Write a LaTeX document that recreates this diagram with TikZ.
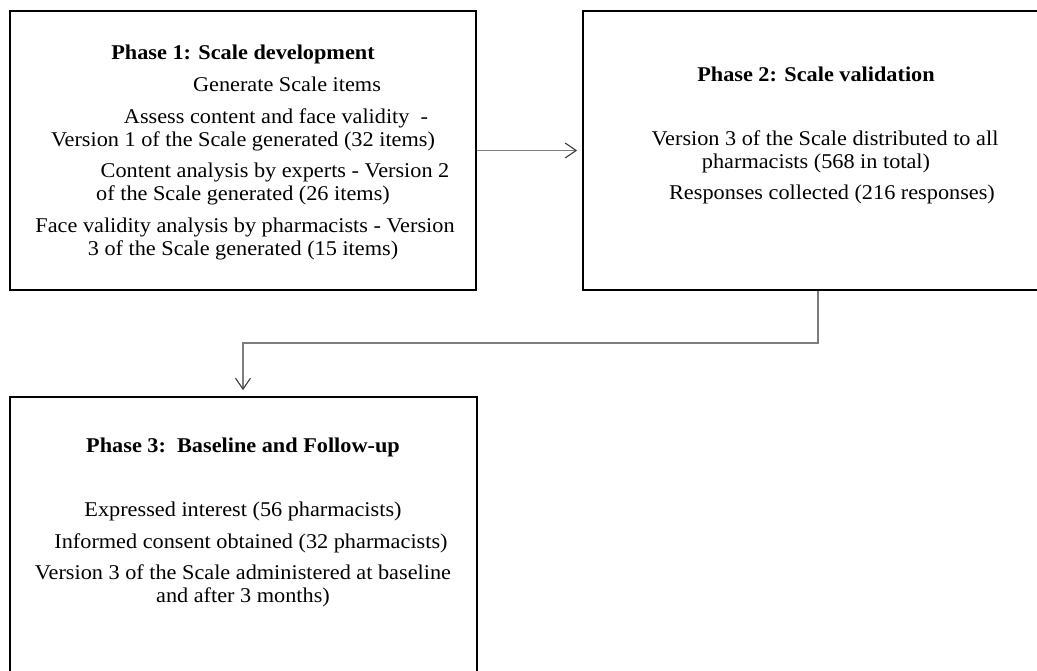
\documentclass[tikz,border=0pt]{standalone}
\usepackage{fontspec}
\setmainfont[FakeStretch=1.06]{Liberation Serif}
\usetikzlibrary{arrows.meta}
\definecolor{conn}{RGB}{125,125,125}
\definecolor{tipc}{RGB}{60,60,60}
\tikzset{
  phasebox/.style={draw=black, line width=1.8pt, rectangle, inner sep=0pt},
  txt/.style={anchor=base, inner sep=0pt, font=\fontsize{21}{23}\selectfont},
  head/.style={anchor=base, inner sep=0pt, font=\fontsize{21}{23}\selectfont\bfseries},
  conline/.style={draw=conn, line width=1.2pt, -{Straight Barb[length=11pt,width=15pt,line width=1.1pt,color=tipc]}},
}
\begin{document}
\begin{tikzpicture}[x=1pt,y=-1pt]
\useasboundingbox (0,0) rectangle (1037,670);
\clip (0,0) rectangle (1037,670);
% boxes
\node[phasebox, minimum width=466pt, minimum height=279pt] (b1) at (243,150.5) {};
\node[phasebox, minimum width=462pt, minimum height=279pt] (b2) at (814,150.5) {};
\node[phasebox, minimum width=467pt, minimum height=283pt] (b3) at (243.5,538.5) {};
% phase 1 text
\node[head] (h1) at (243,59) {Phase 1: Scale development};
\node[txt] (l11) at (287,91) {Generate Scale items};
\node[txt] (l12) at (276,123) {Assess content and face validity\ \ -};
\node[txt] (l13) at (243,146) {Version 1 of the Scale generated (32 items)};
\node[txt] (l14) at (275,177) {Content analysis by experts - Version 2};
\node[txt] (l15) at (243,200) {of the Scale generated (26 items)};
\node[txt] (l16) at (245,232) {Face validity analysis by pharmacists - Version};
\node[txt] (l17) at (243,255) {3 of the Scale generated (15 items)};
% phase 2 text
\node[head] (h2) at (816,81) {Phase 2: Scale validation};
\node[txt] (l21) at (825,145) {Version 3 of the Scale distributed to all};
\node[txt] (l22) at (816,168) {pharmacists (568 in total)};
\node[txt] (l23) at (832,199) {Responses collected (216 responses)};
% phase 3 text
\node[head] (h3) at (243,452) {Phase 3:\ \ Baseline and Follow-up};
\node[txt] (l31) at (243,516) {Expressed interest (56 pharmacists)};
\node[txt] (l32) at (251,548) {Informed consent obtained (32 pharmacists)};
\node[txt] (l33) at (243,579) {Version 3 of the Scale administered at baseline};
\node[txt] (l34) at (243,602) {and after 3 months)};
% connectors
\coordinate (c1) at (818,290);
\coordinate (c2) at (818,343);
\coordinate (c3) at (243,343);
\draw[conline, shorten >=5pt] (b1.east) -- (b2.west);
\draw[conline, shorten >=6pt] (b2.south -| c1) -- (c2) -- (c3) -- (c3 |- b3.north);
\end{tikzpicture}
\end{document}
